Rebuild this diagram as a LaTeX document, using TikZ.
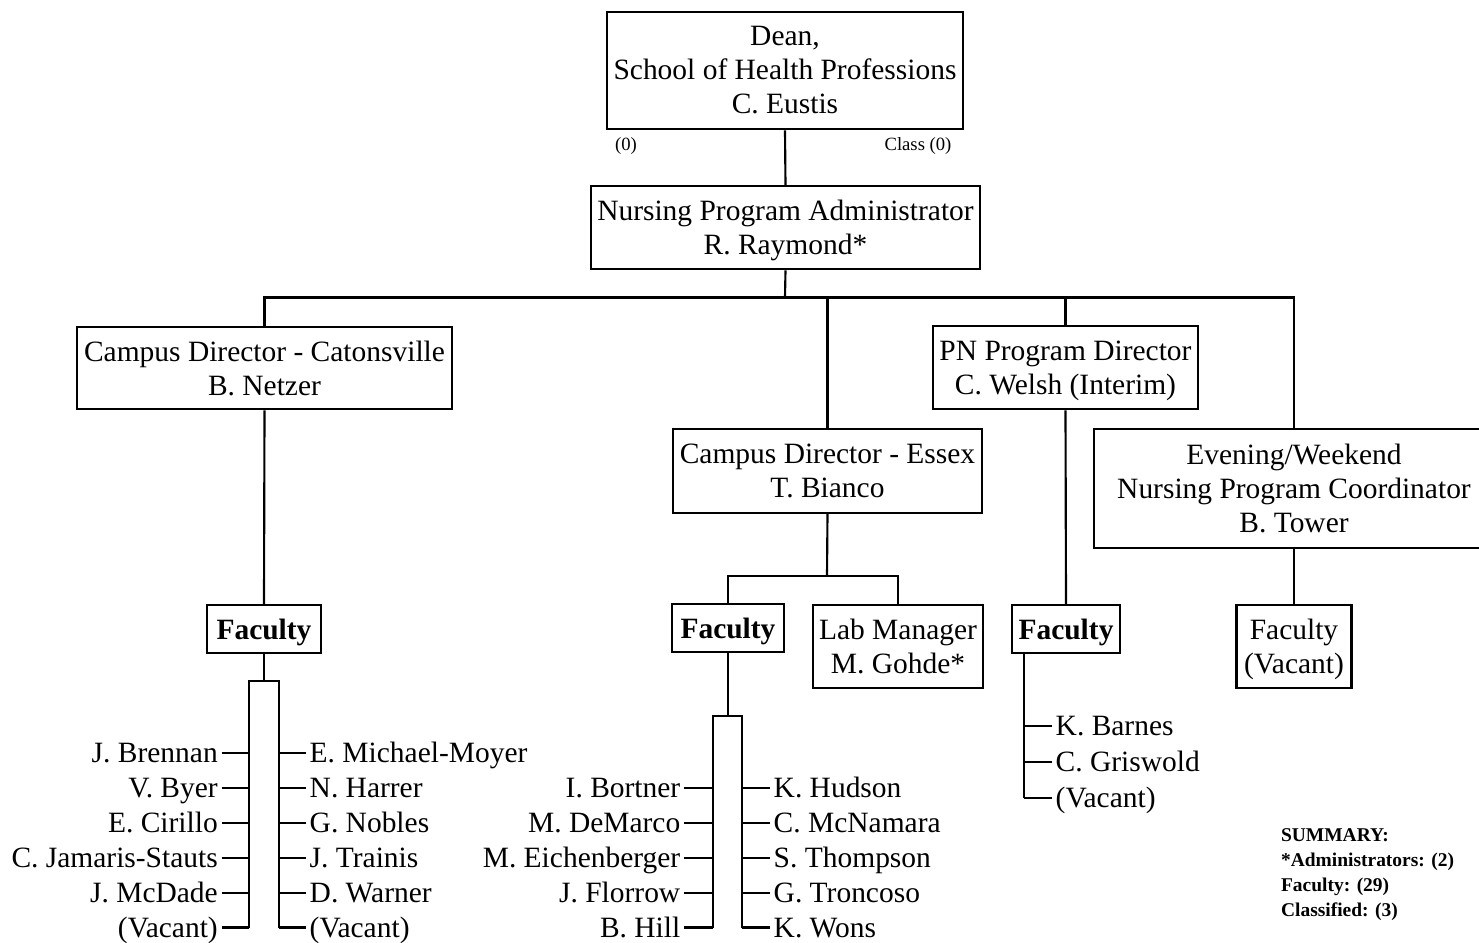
\documentclass[tikz,border=0pt]{standalone}
\usepackage{fontspec}
\setmainfont{Liberation Serif}
\newcommand\bigtxt{\fontsize{22.1}{25.5}\selectfont}
\newcommand\smalltxt{\fontsize{14}{16}\selectfont}
\newcommand\sumtxt{\fontsize{14.6}{18.75}\selectfont\bfseries}
\begin{document}
\begin{tikzpicture}[x=0.75pt,y=-0.75pt,
  line width=1.6pt,
  box/.style={draw, line width=1.6pt, align=center, inner sep=0pt, font=\bigtxt},
  fac/.style={box, text depth=0pt},
  nm/.style={inner xsep=2pt, inner ysep=0pt, text height=14.6pt, text depth=0pt, font=\bigtxt},
  nmL/.style={nm, anchor=east},
  nmR/.style={nm, anchor=west}]
\useasboundingbox (0,0) rectangle (1479,943);
\fill[white] (0,0) rectangle (1479,943);

% boxes
\node[box, minimum width=267pt, minimum height=88.2pt] (dean) at (785,70.5) {Dean,\\School of Health Professions\\C. Eustis};
\node[fac, minimum width=291.75pt, minimum height=62.5pt] (npa) at (785.5,227.7) {Nursing Program Administrator\\R. Raymond*};
\node[box, minimum width=280.8pt, minimum height=62.1pt] (cat) at (264.5,368) {Campus Director - Catonsville\\B. Netzer};
\node[fac, minimum width=198.3pt, minimum height=62.5pt] (pn) at (1065.5,367.7) {PN Program Director\\C. Welsh (Interim)};
\node[box, minimum width=231.3pt, minimum height=62.5pt] (essex) at (827.5,471) {Campus Director - Essex\\T. Bianco};
\node[box, minimum width=300pt, minimum height=89.25pt] (eve) at (1294,488.5) {Evening/Weekend\\Nursing Program Coordinator\\B. Tower};
\node[fac, minimum width=85.3pt, minimum height=35.8pt] (facC) at (264,628.8) {\textbf{Faculty}};
\node[fac, minimum width=84.2pt, minimum height=35.4pt] (facE) at (728,628) {\textbf{Faculty}};
\node[box, minimum width=127.3pt, minimum height=62.25pt] (lab) at (898,646.5) {Lab Manager\\M. Gohde*};
\node[fac, minimum width=81.2pt, minimum height=35.8pt] (facP) at (1066,628.8) {\textbf{Faculty}};
\node[fac, minimum width=86.25pt, minimum height=62.25pt] (facV) at (1294,646.5) {Faculty\\(Vacant)};

% small labels
\node[font=\smalltxt, inner sep=0pt] (zero) at (626,146) {(0)};
\node[font=\smalltxt, inner sep=0pt] (cls) at (918,146) {Class (0)};

% summary
\node[font=\sumtxt, align=left, anchor=base west, inner sep=0pt] (sum) at (1280,916.7) {SUMMARY:\\*Administrators: (2)\\Faculty: (29)\\Classified: (3)};

% top connectors
\coordinate (bus) at (785,297.5);
\draw (dean.south) -- (npa.north);
\draw (npa.south) -- (bus);
\draw (cat.north) -- (cat.north |- bus) -- (eve.north |- bus) -- (eve.north);
\draw (essex.north) -- (essex.north |- bus);
\draw (pn.north) -- (pn.north |- bus);

% Essex split
\coordinate (ebus) at (827,576);
\draw (essex.south) -- (ebus);
\draw (facE.north) -- (facE.north |- ebus) -- (lab.north |- ebus) -- (lab.north);

% other drops
\draw (cat.south) -- (facC.north);
\draw (pn.south) -- (facP.north);
\draw (eve.south) -- (facV.north);

% Catonsville faculty list
\coordinate (cL) at (249,681);
\coordinate (cR) at (279,681);
\node[nmL] (c1) at (221.5,753) {J. Brennan};
\node[nmL] (c2) at (221.5,788) {V. Byer};
\node[nmL] (c3) at (221.5,823) {E. Cirillo};
\node[nmL] (c4) at (221.5,858) {C. Jamaris-Stauts};
\node[nmL] (c5) at (221.5,893) {J. McDade};
\node[nmL] (c6) at (221.5,927.5) {(Vacant)};
\node[nmR] (d1) at (306,753) {E. Michael-Moyer};
\node[nmR] (d2) at (306,788) {N. Harrer};
\node[nmR] (d3) at (306,823) {G. Nobles};
\node[nmR] (d4) at (306,858) {J. Trainis};
\node[nmR] (d5) at (306,893) {D. Warner};
\node[nmR] (d6) at (306,927.5) {(Vacant)};
\draw (facC.south) -- (facC.south |- cL);
\draw (cL |- c6.east) -- (cL) -- (cR) -- (cR |- d6.west);
\foreach \n in {c1,c2,c3,c4,c5,c6} \draw (\n.east) -- (\n.east -| cL);
\foreach \n in {d1,d2,d3,d4,d5,d6} \draw (\n.west) -- (\n.west -| cR);

% Essex faculty list
\coordinate (eL) at (713,716);
\coordinate (eR) at (742,716);
\node[nmL] (e1) at (684,788) {I. Bortner};
\node[nmL] (e2) at (684,823) {M. DeMarco};
\node[nmL] (e3) at (684,858) {M. Eichenberger};
\node[nmL] (e4) at (684,893) {J. Florrow};
\node[nmL] (e5) at (684,927.5) {B. Hill};
\node[nmR] (f1) at (770,788) {K. Hudson};
\node[nmR] (f2) at (770,823) {C. McNamara};
\node[nmR] (f3) at (770,858) {S. Thompson};
\node[nmR] (f4) at (770,893) {G. Troncoso};
\node[nmR] (f5) at (770,927.5) {K. Wons};
\draw (facE.south) -- (facE.south |- eL);
\draw (eL |- e5.east) -- (eL) -- (eR) -- (eR |- f5.west);
\foreach \n in {e1,e2,e3,e4,e5} \draw (\n.east) -- (\n.east -| eL);
\foreach \n in {f1,f2,f3,f4,f5} \draw (\n.west) -- (\n.west -| eR);

% PN faculty list
\coordinate (pL) at (1024,652.7);
\node[nmR] (p1) at (1052,726) {K. Barnes};
\node[nmR] (p2) at (1052,762) {C. Griswold};
\node[nmR] (p3) at (1052,798) {(Vacant)};
\draw (pL) -- (pL |- p3.west);
\foreach \n in {p1,p2,p3} \draw (\n.west) -- (\n.west -| pL);
\end{tikzpicture}
\end{document}
